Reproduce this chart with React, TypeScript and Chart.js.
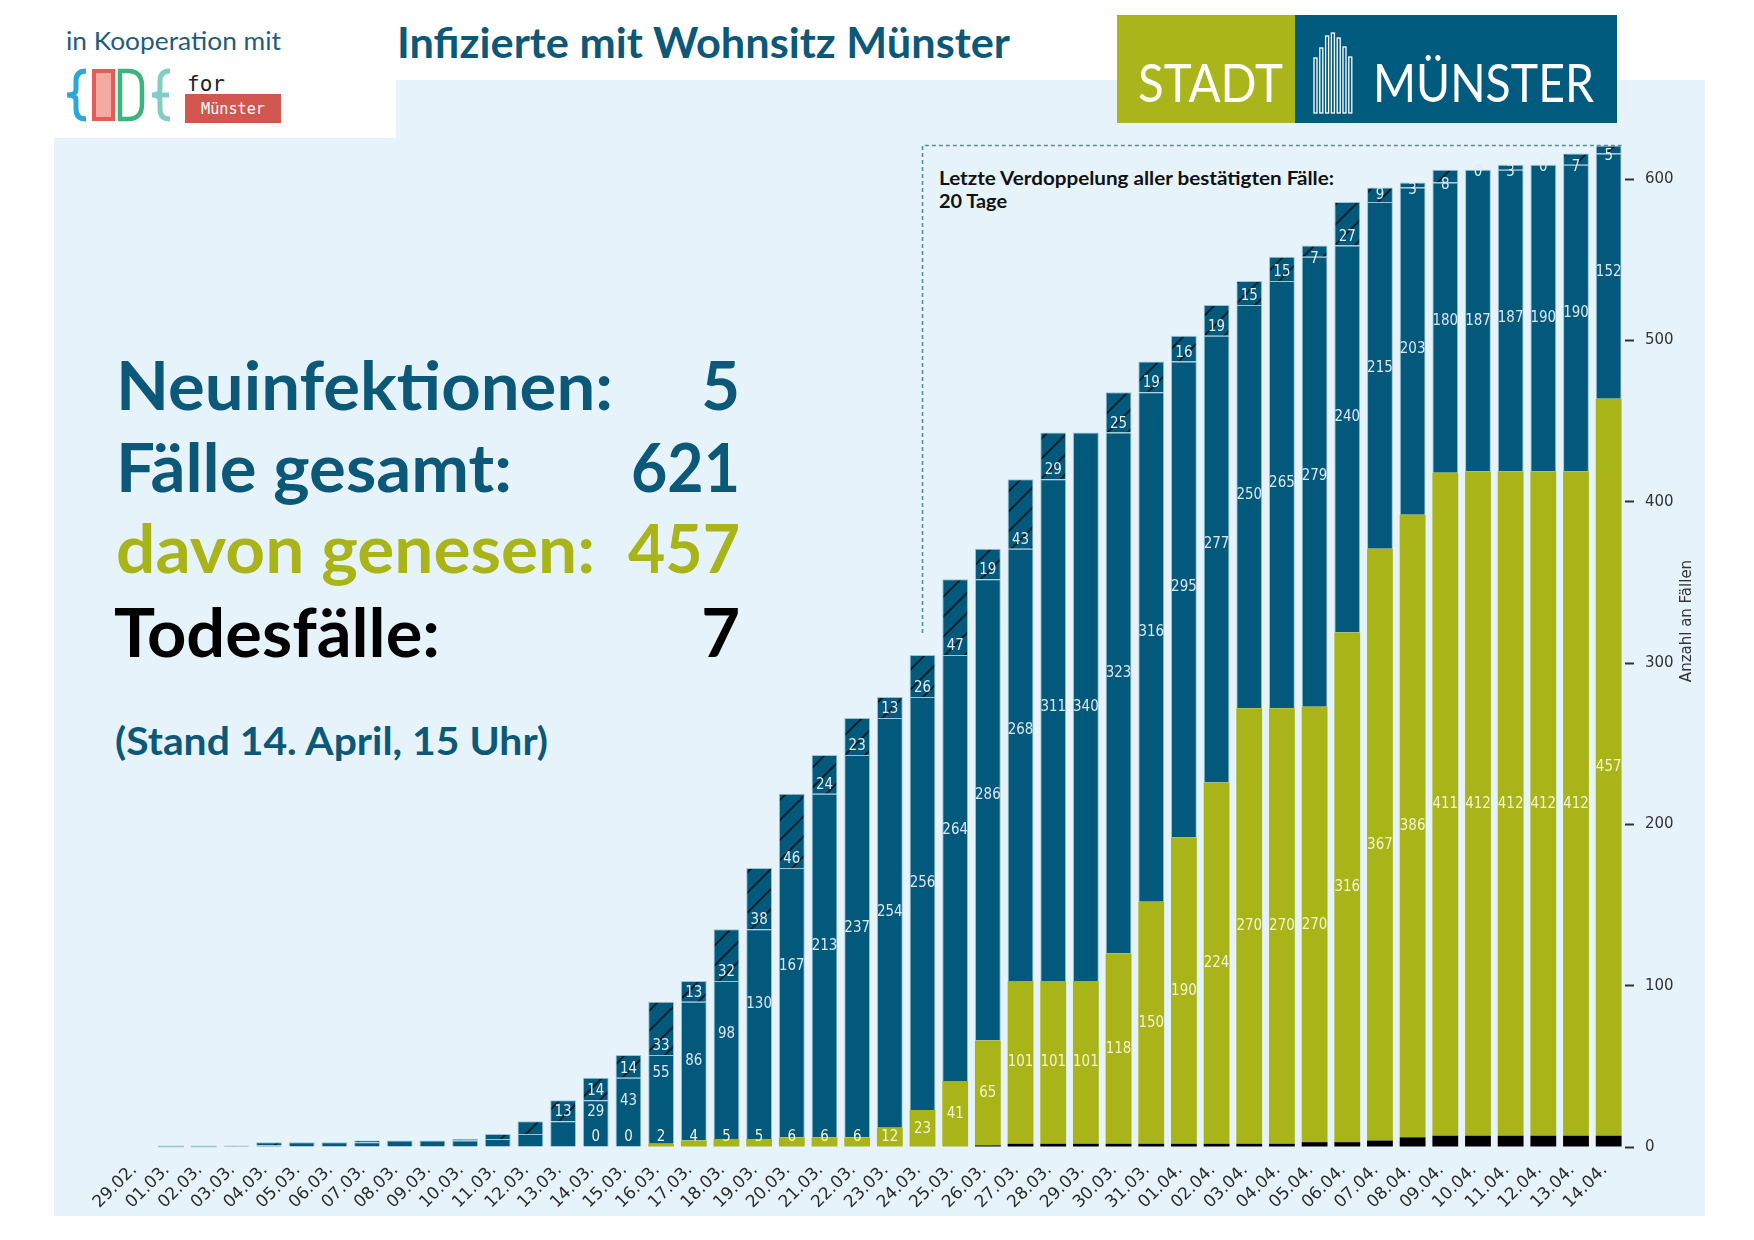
import React, { useEffect, useRef } from "react";
import { Chart, registerables } from "chart.js";

Chart.register(...registerables);

// ---------- data ----------
const dates = [
  "29.02.",
  "01.03.", "02.03.", "03.03.", "04.03.", "05.03.", "06.03.", "07.03.", "08.03.", "09.03.", "10.03.",
  "11.03.", "12.03.", "13.03.", "14.03.", "15.03.", "16.03.", "17.03.", "18.03.", "19.03.", "20.03.",
  "21.03.", "22.03.", "23.03.", "24.03.", "25.03.", "26.03.", "27.03.", "28.03.", "29.03.", "30.03.",
  "31.03.",
  "01.04.", "02.04.", "03.04.", "04.04.", "05.04.", "06.04.", "07.04.", "08.04.", "09.04.", "10.04.",
  "11.04.", "12.04.", "13.04.", "14.04.",
];

// Todesfälle
const deaths = [
  0,
  0, 0, 0, 0, 0, 0, 0, 0, 0, 0,
  0, 0, 0, 0, 0, 0, 0, 0, 0, 0,
  0, 0, 0, 0, 0, 1, 2, 2, 2, 2,
  2,
  2, 2, 2, 2, 3, 3, 4, 6, 7, 7,
  7, 7, 7, 7,
];

// genesen
const recovered = [
  0,
  0, 0, 0, 0, 0, 0, 0, 0, 0, 0,
  0, 0, 0, 0, 0, 2, 4, 5, 5, 6,
  6, 6, 12, 23, 41, 65, 101, 101, 101, 118,
  150,
  190, 224, 270, 270, 270, 316, 367, 386, 411, 412,
  412, 412, 412, 457,
];

// aktiv (ohne Neuinfektionen des Tages)
const active = [
  0,
  0, 0, 0, 1, 3, 3, 3, 4, 4, 4,
  5, 8, 16, 29, 43, 55, 86, 98, 130, 167,
  213, 237, 254, 256, 264, 286, 268, 311, 340, 323,
  316,
  295, 277, 250, 265, 279, 240, 215, 203, 180, 187,
  187, 190, 190, 152,
];

// Neuinfektionen (schraffiert); null = kein Wert
const newCases: (number | null)[] = [
  null,
  0, 0, 1, 2, 0, 0, 1, 0, 0, 1,
  3, 8, 13, 14, 14, 33, 13, 32, 38, 46,
  24, 23, 13, 26, 47, 19, 43, 29, null, 25,
  19,
  16, 19, 15, 15, 7, 27, 9, 3, 8, 0,
  3, 0, 7, 5,
];

const firstLabelDate = "14.03.";
const firstNewLabelDate = "13.03.";
const doublingStartDate = "24.03.";
const doublingDays = 20;
const yTicks = [0, 100, 200, 300, 400, 500, 600];

// ---------- styles ----------
const BLUE = "#03597b";
const OLIVE = "#a9b418";
const TEAL_TEXT = "#0c5879";
const EDGE = "#9cc2d3";
const PANEL = "#e6f3fa";

const totals = dates.map(
  (_, i) => deaths[i] + recovered[i] + active[i] + (newCases[i] ?? 0)
);

function makeHatch(): CanvasPattern | string {
  const s = 20;
  const c = document.createElement("canvas");
  c.width = s;
  c.height = s;
  const g = c.getContext("2d");
  if (!g) return BLUE;
  g.fillStyle = BLUE;
  g.fillRect(0, 0, s, s);
  g.strokeStyle = "#0b1820";
  g.lineWidth = 1.6;
  g.beginPath();
  g.moveTo(0, s);
  g.lineTo(s, 0);
  g.moveTo(-2, 2);
  g.lineTo(2, -2);
  g.moveTo(s - 2, s + 2);
  g.lineTo(s + 2, s - 2);
  g.stroke();
  const p = g.createPattern(c, "repeat");
  return p || BLUE;
}

const labelPlugin = {
  id: "segmentLabels",
  afterDatasetsDraw(chart: any) {
    const ctx = chart.ctx;
    const xs = chart.scales.x;
    const ys = chart.scales.y;
    const first = dates.indexOf(firstLabelDate);
    const firstNew = dates.indexOf(firstNewLabelDate);
    const zero = ys.getPixelForValue(0);
    const barMeta = chart.getDatasetMeta(2);
    ctx.save();
    // zero-height bars: only their edge is visible
    ctx.strokeStyle = EDGE;
    ctx.lineWidth = 1.5;
    dates.forEach((_, i) => {
      if (totals[i] === 0 && newCases[i] !== null) {
        const b = barMeta.data[i];
        ctx.beginPath();
        ctx.moveTo(b.x - b.width / 2, zero - 0.5);
        ctx.lineTo(b.x + b.width / 2, zero - 0.5);
        ctx.stroke();
      }
    });
    ctx.font = '16px "DejaVu Sans"';
    ctx.textAlign = "center";
    ctx.textBaseline = "middle";
    const draw = (txt: string, x: number, y: number, color: string) => {
      ctx.save();
      ctx.translate(x, y);
      ctx.scale(0.84, 1);
      ctx.fillStyle = color;
      ctx.fillText(txt, 0, 0);
      ctx.restore();
    };
    dates.forEach((_, i) => {
      const cx = xs.getPixelForValue(i);
      const recTop = deaths[i] + recovered[i];
      const actTop = recTop + active[i] + (newCases[i] ?? 0);
      if (i >= first) {
        let yo = (ys.getPixelForValue(deaths[i]) + ys.getPixelForValue(recTop)) / 2;
        yo = Math.min(yo, zero - 10);
        draw(String(recovered[i]), cx, yo, "#f4f2d4");
        const yb = (ys.getPixelForValue(recTop) + ys.getPixelForValue(actTop)) / 2;
        draw(String(active[i]), cx, yb, "#dce7ec");
      }
      const n = newCases[i];
      if (i >= firstNew && n !== null) {
        const pb = ys.getPixelForValue(recTop + active[i]);
        const pt = ys.getPixelForValue(actTop);
        const h = pb - pt;
        const yc = h < 14 ? pb + 2 : pb - Math.min(h / 2, 9);
        draw(String(n), cx, yc, "#e3ecef");
      }
    });
    ctx.restore();
  },
};

const doublingPlugin = {
  id: "doubling",
  afterDatasetsDraw(chart: any) {
    const ctx = chart.ctx;
    const xs = chart.scales.x;
    const ys = chart.scales.y;
    const last = dates.length - 1;
    const i0 = dates.indexOf(doublingStartDate);
    const meta = chart.getDatasetMeta(3);
    const bar = meta.data[last];
    const x0 = xs.getPixelForValue(i0);
    const yTop = ys.getPixelForValue(totals[last]);
    const yBot = ys.getPixelForValue(totals[i0]) - 22;
    const xEnd = bar.x + bar.width / 2;
    ctx.save();
    ctx.strokeStyle = "#5b8b9a";
    ctx.lineWidth = 1.6;
    ctx.setLineDash([4, 3]);
    ctx.beginPath();
    ctx.moveTo(x0, yBot);
    ctx.lineTo(x0, yTop);
    ctx.lineTo(xEnd, yTop);
    ctx.stroke();
    ctx.restore();
  },
};

const yTitlePlugin = {
  id: "yTitle",
  afterDraw(chart: any) {
    const ctx = chart.ctx;
    const a = chart.chartArea;
    ctx.save();
    ctx.translate(a.right + 62, (a.top + a.bottom) / 2 - 22);
    ctx.rotate(-Math.PI / 2);
    ctx.font = '15px "DejaVu Sans"';
    ctx.fillStyle = "#333";
    ctx.textAlign = "center";
    ctx.textBaseline = "middle";
    ctx.fillText("Anzahl an Fällen", 0, 0);
    ctx.restore();
  },
};

function CodeLogo() {
  return (
    <g>
      <path d="M86,71 Q76,71 76,81 L76,90 Q76,95 67,95 Q76,95 76,100 L76,109 Q76,119 86,119"
        fill="none" stroke="#29a8d9" strokeWidth={5} />
      <rect x={94} y={71} width={19} height={48} fill="#f2aaa3" stroke="#e35d58" strokeWidth={4} />
      <path d="M120,71 L128,71 Q142,71 142,86 L142,104 Q142,119 128,119 L120,119 Z"
        fill="none" stroke="#3db47b" strokeWidth={4.5} />
      <path d="M170,71 Q160,71 160,81 L160,90 Q160,95 152,95 Q160,95 160,100 L160,109 Q160,119 170,119 M160,95 L169,95"
        fill="none" stroke="#82cdc4" strokeWidth={5} />
      <text x={187} y={91} fontFamily="DejaVu Sans Mono" fontSize={21} fill="#222">for</text>
      <rect x={185} y={94} width={96} height={29} fill="#d1574e" />
      <text x={201} y={114} fontFamily="DejaVu Sans Mono" fontSize={15} fill="#fff"
        textLength={64} lengthAdjust="spacingAndGlyphs">Münster</text>
    </g>
  );
}

function StadtLogo() {
  const tops = [58, 48, 36, 33, 38, 47, 57];
  return (
    <g>
      <rect x={1117} y={15} width={178} height={108} fill="#a9b51a" />
      <rect x={1295} y={15} width={322} height={108} fill="#015b7e" />
      <text x={1138} y={102} fontFamily="Lato" fontSize={52} fill="#fff"
        textLength={145} lengthAdjust="spacingAndGlyphs">STADT</text>
      {tops.map((t, k) => (
        <rect key={k} x={1314 + k * 5.8} y={t} width={3} height={113 - t}
          fill="none" stroke="#fff" strokeWidth={1.3} />
      ))}
      <text x={1373} y={102} fontFamily="Lato" fontSize={52} fill="#fff"
        textLength={221} lengthAdjust="spacingAndGlyphs">MÜNSTER</text>
    </g>
  );
}

export default function App() {
  const canvasRef = useRef<HTMLCanvasElement | null>(null);

  useEffect(() => {
    const canvas = canvasRef.current;
    if (!canvas) return;
    const hatch = makeHatch();
    const common = { stack: "s", barPercentage: 0.79, categoryPercentage: 1.0 };
    const chart = new Chart(canvas, {
      type: "bar",
      data: {
        labels: dates,
        datasets: [
          { ...common, label: "Todesfälle", data: deaths, backgroundColor: "#000000", borderWidth: 0 },
          { ...common, label: "genesen", data: recovered, backgroundColor: OLIVE, borderWidth: 0 },
          { ...common, label: "aktiv", data: active, backgroundColor: BLUE, borderColor: EDGE, borderWidth: 1 },
          { ...common, label: "neu", data: newCases, backgroundColor: hatch as any, borderColor: EDGE, borderWidth: 1 },
        ],
      } as any,
      options: {
        animation: false,
        responsive: false,
        maintainAspectRatio: false,
        layout: { padding: { left: 122, top: 139, right: 0, bottom: 0 } },
        plugins: {
          legend: { display: false },
          tooltip: { enabled: false },
          title: { display: false },
        },
        scales: {
          x: {
            stacked: true,
            grid: { display: false },
            border: { display: false },
            ticks: {
              autoSkip: false,
              maxRotation: 45,
              minRotation: 45,
              labelOffset: -4,
              padding: 5,
              color: "#2a2a2a",
              font: { family: "DejaVu Sans", size: 17 },
            },
            afterFit: (s: any) => {
              s.height = 93;
            },
          },
          y: {
            stacked: true,
            position: "right",
            min: 0,
            max: 625,
            grid: {
              drawOnChartArea: false,
              drawTicks: true,
              tickLength: 9,
              tickWidth: 2,
              tickColor: "#333",
            },
            border: { display: false },
            ticks: {
              stepSize: 100,
              padding: 11,
              color: "#333",
              font: { family: "DejaVu Sans", size: 15 },
            },
            afterBuildTicks: (s: any) => {
              s.ticks = yTicks.map((v) => ({ value: v }));
            },
            afterFit: (s: any) => {
              s.width = 129;
            },
          },
        },
      } as any,
      plugins: [doublingPlugin, labelPlugin, yTitlePlugin],
    });
    return () => chart.destroy();
  }, []);

  const last = dates.length - 1;
  const lato = "Lato";

  return (
    <div style={{ position: "absolute", left: 0, top: 0, width: 1754, height: 1240, background: "#fff", overflow: "hidden" }}>
      <svg width={1754} height={1240} style={{ position: "absolute", left: 0, top: 0 }}>
        <rect x={54} y={80} width={1651} height={1136} fill={PANEL} />
        <rect x={40} y={60} width={356} height={78} fill="#fff" />
        <text x={66} y={50} fontFamily={lato} fontSize={25} fill="#1f5d7c"
          textLength={215} lengthAdjust="spacingAndGlyphs">in Kooperation mit</text>
        <CodeLogo />
        <text x={397} y={58} fontFamily={lato} fontWeight={700} fontSize={42} fill={TEAL_TEXT}
          textLength={613} lengthAdjust="spacingAndGlyphs">Infizierte mit Wohnsitz Münster</text>
        <StadtLogo />

        <g fontFamily={lato} fontWeight={700} fontSize={67}>
          <text x={116} y={410} fill={TEAL_TEXT} textLength={497} lengthAdjust="spacingAndGlyphs">Neuinfektionen:</text>
          <text x={740} y={410} fill={TEAL_TEXT} textAnchor="end">{newCases[last]}</text>
          <text x={116} y={492} fill={TEAL_TEXT} textLength={396} lengthAdjust="spacingAndGlyphs">Fälle gesamt:</text>
          <text x={740} y={492} fill={TEAL_TEXT} textAnchor="end" textLength={109} lengthAdjust="spacingAndGlyphs">{totals[last]}</text>
          <text x={116} y={573} fill={OLIVE} textLength={479} lengthAdjust="spacingAndGlyphs">davon genesen:</text>
          <text x={740} y={573} fill={OLIVE} textAnchor="end" textLength={112} lengthAdjust="spacingAndGlyphs">{recovered[last]}</text>
          <text x={114} y={657} fill="#000" textLength={326} lengthAdjust="spacingAndGlyphs">Todesfälle:</text>
          <text x={740} y={657} fill="#000" textAnchor="end">{deaths[last]}</text>
        </g>
        <text x={115} y={755} fontFamily={lato} fontWeight={700} fontSize={39} fill={TEAL_TEXT}
          textLength={433} lengthAdjust="spacingAndGlyphs">(Stand 14. April, 15 Uhr)</text>

        <text x={939} y={185} fontFamily={lato} fontWeight={700} fontSize={19} fill="#111"
          textLength={395} lengthAdjust="spacingAndGlyphs">Letzte Verdoppelung aller bestätigten Fälle:</text>
        <text x={939} y={208} fontFamily={lato} fontWeight={700} fontSize={19} fill="#111"
          textLength={68} lengthAdjust="spacingAndGlyphs">{`${doublingDays} Tage`}</text>
      </svg>
      <canvas ref={canvasRef} width={1754} height={1240}
        style={{ position: "absolute", left: 0, top: 0, width: 1754, height: 1240 }} />
    </div>
  );
}
